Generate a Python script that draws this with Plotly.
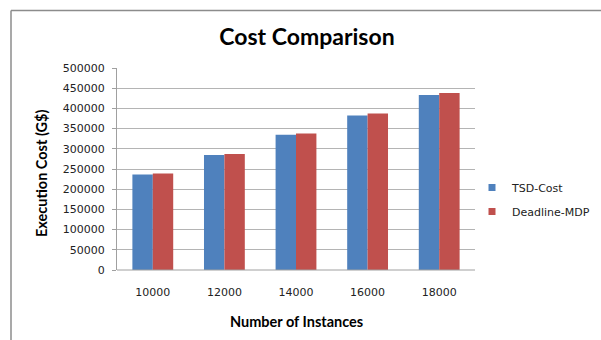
import plotly.graph_objects as go

categories = ["10000", "12000", "14000", "16000", "18000"]
tsd_cost = [236500, 284500, 335000, 382500, 433300]
deadline_mdp = [239000, 287000, 338000, 387500, 438100]
y_ticks = [0, 50000, 100000, 150000, 200000, 250000, 300000, 350000, 400000, 450000, 500000]
series_names = ["TSD-Cost", "Deadline-MDP"]
series_colors = ["#4F81BD", "#C0504D"]

W, H = 601, 340
L, R, T, B = 117, 126, 68, 70
pw, ph = W - L - R, H - T - B

tick_font = dict(family="DejaVu Sans", size=11, color="#222")
title_font = "Lato"

fig = go.Figure()
for name, vals, col in zip(series_names, [tsd_cost, deadline_mdp], series_colors):
    fig.add_trace(go.Bar(x=categories, y=vals, name=name, showlegend=False,
                         marker=dict(color=col, line=dict(width=0))))
# legend entries with small square swatches
for name, col in zip(series_names, series_colors):
    fig.add_trace(go.Scatter(x=[None], y=[None], mode="markers", name=name,
                             legendgroup=name,
                             marker=dict(symbol="square", size=7, color=col)))

fig.update_layout(
    width=W, height=H,
    margin=dict(l=L, r=R, t=T, b=B, pad=0, autoexpand=False),
    paper_bgcolor="white", plot_bgcolor="white",
    barmode="group", bargap=0.43, bargroupgap=0,
    title=dict(text="<b>Cost Comparison</b>", x=307 / W, xanchor="center",
               y=1 - 37 / H, yanchor="middle", yref="container",
               font=dict(family=title_font, size=23, color="black")),
    showlegend=True,
    legend=dict(x=(472 - L) / pw, xanchor="left", y=1 - (173 - T) / ph, yanchor="top",
                font=dict(family="DejaVu Sans", size=11, color="#222"),
                itemwidth=30, traceorder="grouped", tracegroupgap=5,
                bgcolor="rgba(0,0,0,0)"),
    xaxis=dict(type="category", showgrid=False, showline=False, ticks="",
               tickfont=tick_font, ticklabelstandoff=14, zeroline=False),
    yaxis=dict(range=[0, 500000], tickvals=y_ticks, ticktext=[str(v) for v in y_ticks],
               showgrid=True, gridcolor="#B4B4B4", gridwidth=1,
               showline=True, linecolor="#A0A0A0", linewidth=1,
               ticks="outside", ticklen=4, tickcolor="#A0A0A0",
               tickfont=tick_font, ticklabelstandoff=5, zeroline=False),
    annotations=[
        dict(text="<b>Execution Cost (G$)</b>", textangle=-90, xref="paper", yref="paper",
             x=(41 - L) / pw, y=1 - (173 - T) / ph, xanchor="center", yanchor="middle",
             showarrow=False, font=dict(family=title_font, size=14.5, color="black")),
        dict(text="<b>Number of Instances</b>", xref="paper", yref="paper",
             x=(296 - L) / pw, y=1 - (321 - T) / ph, xanchor="center", yanchor="middle",
             showarrow=False, font=dict(family=title_font, size=14.5, color="black")),
    ],
    shapes=[
        dict(type="line", xref="paper", yref="paper",
             x0=(11 - L) / pw, x1=(W + 5 - L) / pw, y0=1 + (T - 10.5) / ph, y1=1 + (T - 10.5) / ph,
             line=dict(color="#8C8C8C", width=1.5)),
        dict(type="line", xref="paper", yref="paper",
             x0=(11 - L) / pw, x1=(11 - L) / pw, y0=1 + (T - 10.5) / ph, y1=-(B + 5) / ph,
             line=dict(color="#8C8C8C", width=1.5)),
        dict(type="line", xref="paper", yref="paper",
             x0=0, x1=1, y0=0, y1=0, line=dict(color="#A0A0A0", width=1)),
    ],
)

fig.write_html("out.html")
